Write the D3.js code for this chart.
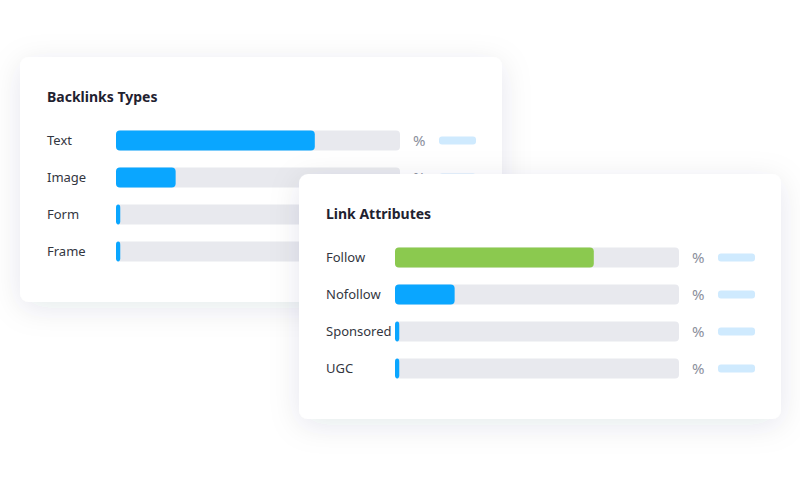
<!DOCTYPE html>
<html>
<head>
<meta charset="utf-8">
<script src="https://cdn.jsdelivr.net/npm/d3@7"></script>
<style>
  body { margin: 0; background: #ffffff; }
  svg { display: block; font-family: "Noto Sans", "Open Sans", sans-serif; }
</style>
</head>
<body>
<div id="chart"></div>
<script>
const typeLabels = ["Text", "Image", "Form", "Frame"];
const typeValues = [70, 21, 1.5, 1.5];
const attrLabels = ["Follow", "Nofollow", "Sponsored", "UGC"];
const attrValues = [70, 21, 1.5, 1.5];

const width = 800, height = 500;

const svg = d3.select("#chart").append("svg")
    .attr("width", width)
    .attr("height", height);

const defs = svg.append("defs");
const shadow = defs.append("filter")
    .attr("id", "shadow")
    .attr("x", "-20%").attr("y", "-30%")
    .attr("width", "140%").attr("height", "160%");
shadow.append("feDropShadow")
    .attr("dx", 0).attr("dy", 6)
    .attr("stdDeviation", 15)
    .attr("flood-color", "#1a2a4a")
    .attr("flood-opacity", 0.1);

const cardW = 482, cardH = 245;
const x = d3.scaleLinear().domain([0, 100]).range([0, 284]);

function card(left, top, title, labels, values, colors) {
    const g = svg.append("g").attr("transform", `translate(${left},${top})`);

    g.append("rect")
        .attr("width", cardW)
        .attr("height", cardH)
        .attr("rx", 9)
        .attr("fill", "#fff")
        .attr("filter", "url(#shadow)");

    g.append("text")
        .attr("x", 27)
        .attr("y", 40)
        .attr("dy", "0.35em")
        .attr("font-size", 14)
        .attr("font-weight", 700)
        .attr("fill", "#1f2230")
        .text(title);

    const y = d3.scaleBand()
        .domain(labels)
        .range([65, 65 + 37 * labels.length])
        .paddingInner(0.46)
        .paddingOuter(0.23);

    const row = g.selectAll(".row")
        .data(labels.map((l, i) => ({ label: l, value: values[i], color: colors[i] })))
        .enter().append("g")
        .attr("class", "row")
        .attr("transform", d => `translate(0,${y(d.label) + y.bandwidth() / 2})`);

    row.append("text")
        .attr("x", 27)
        .attr("dy", "0.35em")
        .attr("font-size", 13)
        .attr("fill", "#33363f")
        .text(d => d.label);

    row.append("rect")
        .attr("x", 96)
        .attr("y", -10)
        .attr("width", x(100))
        .attr("height", 20)
        .attr("rx", 4)
        .attr("fill", "#e8e9ee");

    row.append("rect")
        .attr("x", 96)
        .attr("y", -10)
        .attr("width", d => Math.max(x(d.value), 4))
        .attr("height", 20)
        .attr("rx", d => Math.min(4, x(d.value) / 2 + 1))
        .attr("fill", d => d.color);

    row.append("text")
        .attr("x", 393)
        .attr("dy", "0.35em")
        .attr("font-size", 15)
        .attr("fill", "#8b8f9c")
        .text("%");

    row.append("rect")
        .attr("x", 419)
        .attr("y", -4)
        .attr("width", 37)
        .attr("height", 8)
        .attr("rx", 3)
        .attr("fill", "#cfeafe");
}

card(20, 57, "Backlinks Types", typeLabels, typeValues,
    ["#0aa6ff", "#0aa6ff", "#0aa6ff", "#0aa6ff"]);
card(299, 174, "Link Attributes", attrLabels, attrValues,
    ["#8bc94f", "#0aa6ff", "#0aa6ff", "#0aa6ff"]);
</script>
</body>
</html>
